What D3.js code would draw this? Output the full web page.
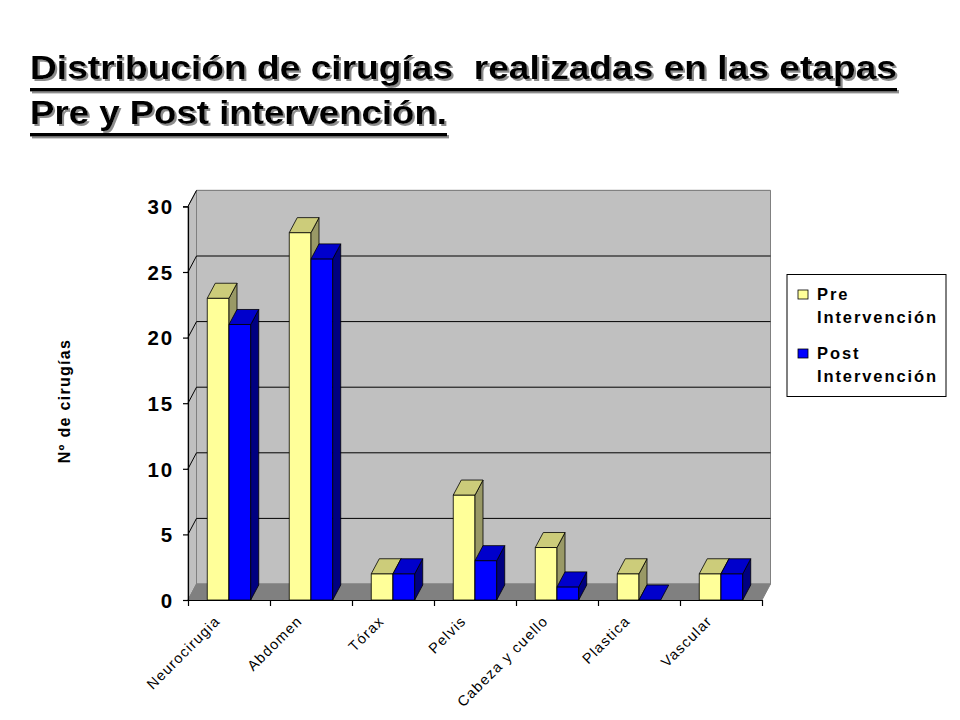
<!DOCTYPE html>
<html>
<head>
<meta charset="utf-8">
<script src="https://cdn.jsdelivr.net/npm/d3@7"></script>
<style>
  html, body { margin: 0; padding: 0; background: #ffffff; }
  svg { display: block; }
</style>
</head>
<body>
<svg id="chart" width="960" height="720"></svg>
<script>
// ---- data ----
const categories = ["Neurocirugia", "Abdomen", "Tórax", "Pelvis", "Cabeza y cuello", "Plastica", "Vascular"];
const preValues  = [23, 28, 2, 8, 4, 2, 2];
const postValues = [21, 26, 2, 3, 1, 0, 2];
const seriesNames = ["Pre\nIntervención", "Post\nIntervención"];
const yTicks = [0, 5, 10, 15, 20, 25, 30];
const titleLines = ["Distribución de cirugías  realizadas en las etapas", "Pre y Post intervención."];
const yTitle = "Nº de cirugías";

// ---- layout ----
const svg = d3.select("#chart");
const X0 = 188, X1 = 762, Y0 = 600, Y1 = 206.4;
const DX = 8.5, DY = -16;     // wall depth
const BDX = 8, BDY = -15;     // bar depth

const x = d3.scaleBand().domain(categories).range([X0, X1]).paddingInner(0).paddingOuter(0);
const xEdge = d3.scaleLinear().domain([0, categories.length]).range([X0, X1]);
const y = d3.scaleLinear().domain([0, 30]).range([Y0, Y1]);
const series = [
  { name: seriesNames[0], values: preValues,  front: "#FFFF99", top: "#CCCC7A", side: "#999966" },
  { name: seriesNames[1], values: postValues, front: "#0000FF", top: "#0000CC", side: "#000080" }
];
const barW = x.bandwidth() * 0.265;
const groupOff = x.bandwidth() * 0.235;

const pts = p => p.map(d => d.join(",")).join(" ");

// shadow filter
const defs = svg.append("defs");
const f = defs.append("filter").attr("id", "shadow").attr("x", "-5%").attr("y", "-20%").attr("width", "110%").attr("height", "150%");
f.append("feDropShadow").attr("dx", 2).attr("dy", 2).attr("stdDeviation", 0.4)
  .attr("flood-color", "#8c8c8c").attr("flood-opacity", 1);

// ---- title ----
const tg = svg.append("g").attr("filter", "url(#shadow)");
const titleY = [79, 124];
const titleW = [867, 417];
titleLines.forEach((t, i) => {
  tg.append("text")
    .attr("x", 30).attr("y", titleY[i])
    .attr("font-family", "Liberation Sans, Arial, sans-serif")
    .attr("font-weight", "bold").attr("font-size", 33)
    .attr("textLength", titleW[i]).attr("lengthAdjust", "spacingAndGlyphs")
    .style("white-space", "pre")
    .attr("fill", "#000").text(t);
  tg.append("rect")
    .attr("x", 30).attr("y", titleY[i] + 9)
    .attr("width", titleW[i]).attr("height", 3.4)
    .attr("fill", "#000");
});

// ---- walls ----
const pg = svg.append("g");
pg.append("polygon")
  .attr("points", pts([[X0 + DX, Y1 + DY], [X1 + DX, Y1 + DY], [X1 + DX, Y0 + DY], [X0 + DX, Y0 + DY]]))
  .attr("fill", "#C0C0C0").attr("stroke", "#808080").attr("stroke-width", 1);
pg.append("polygon")
  .attr("points", pts([[X0, Y0], [X0, Y1], [X0 + DX, Y1 + DY], [X0 + DX, Y0 + DY]]))
  .attr("fill", "#C0C0C0").attr("stroke", "#808080").attr("stroke-width", 1);
pg.append("polygon")
  .attr("points", pts([[X0, Y0], [X1, Y0], [X1 + DX, Y0 + DY], [X0 + DX, Y0 + DY]]))
  .attr("fill", "#808080").attr("stroke", "#808080").attr("stroke-width", 1);

// gridlines
yTicks.filter(v => v > 0).forEach(v => {
  const yy = y(v);
  pg.append("line")
    .attr("x1", X0 + DX).attr("x2", X1 + DX).attr("y1", yy + DY).attr("y2", yy + DY)
    .attr("stroke", v === 30 ? "#808080" : "#000").attr("stroke-width", 1);
  pg.append("line")
    .attr("x1", X0).attr("y1", yy).attr("x2", X0 + DX).attr("y2", yy + DY)
    .attr("stroke", "#000").attr("stroke-width", 1);
});

// ---- bars ----
const bg = svg.append("g").attr("stroke", "#000").attr("stroke-width", 0.8).attr("stroke-linejoin", "round");
categories.forEach((c, i) => {
  series.forEach((s, si) => {
    const v = s.values[i];
    const xl = x(c) + groupOff + si * barW;
    const xr = xl + barW;
    const yt = y(v), yb = y(0);
    if (v > 0) {
      bg.append("polygon").attr("points", pts([[xl, yb], [xl, yt], [xr, yt], [xr, yb]])).attr("fill", s.front);
      bg.append("polygon").attr("points", pts([[xr, yb], [xr, yt], [xr + BDX, yt + BDY], [xr + BDX, yb + BDY]])).attr("fill", s.side);
    }
    bg.append("polygon").attr("points", pts([[xl, yt], [xl + BDX, yt + BDY], [xr + BDX, yt + BDY], [xr, yt]])).attr("fill", s.top);
  });
});

// ---- axes ----
const yAxis = svg.append("g").attr("transform", `translate(${X0},0)`)
  .call(d3.axisLeft(y).tickValues(yTicks).tickSize(5).tickPadding(9).tickFormat(d3.format("d")));
yAxis.select(".domain").attr("stroke", "#000").attr("stroke-width", 1.2);
yAxis.selectAll(".tick line").attr("stroke", "#000").attr("stroke-width", 1.2);
yAxis.selectAll(".tick text")
  .attr("font-family", "Liberation Sans, Arial, sans-serif")
  .attr("font-weight", "bold").attr("font-size", 20.5).attr("letter-spacing", 1.8)
  .attr("fill", "#000").attr("dy", "0.36em");

const xAxis = svg.append("g").attr("transform", `translate(0,${Y0})`)
  .call(d3.axisBottom(xEdge).tickValues(d3.range(categories.length + 1)).tickSize(6).tickFormat(""));
xAxis.select(".domain").attr("stroke", "#000").attr("stroke-width", 1.2).attr("d", `M${X0},0.5H${X1}`);
xAxis.selectAll(".tick line").attr("stroke", "#000").attr("stroke-width", 1.2);

// x labels
svg.append("g").selectAll("text").data(categories).join("text")
  .attr("transform", d => `translate(${x(d) + x.bandwidth() / 2 - 8},622) rotate(-45)`)
  .attr("text-anchor", "end")
  .attr("font-family", "Liberation Sans, Arial, sans-serif")
  .attr("font-size", 14.5).attr("letter-spacing", 1.2)
  .attr("fill", "#000").text(d => d);

// y title
svg.append("text")
  .attr("transform", "translate(70,401) rotate(-90)")
  .attr("text-anchor", "middle")
  .attr("font-family", "Liberation Sans, Arial, sans-serif")
  .attr("font-weight", "bold").attr("font-size", 16).attr("letter-spacing", 1.3)
  .attr("fill", "#000").text(yTitle);

// ---- legend ----
const lg = svg.append("g");
lg.append("rect").attr("x", 787).attr("y", 274.5).attr("width", 159).attr("height", 122)
  .attr("fill", "#fff").attr("stroke", "#000").attr("stroke-width", 1);
series.forEach((s, i) => {
  const by = 290 + i * 59;
  lg.append("rect").attr("x", 798).attr("y", by).attr("width", 10).attr("height", 9)
    .attr("fill", s.front).attr("stroke", "#000").attr("stroke-width", 0.8);
  const lines = s.name.split("\n");
  const t = lg.append("text")
    .attr("font-family", "Liberation Sans, Arial, sans-serif")
    .attr("font-weight", "bold").attr("font-size", 16.5).attr("letter-spacing", 1.9)
    .attr("fill", "#000");
  lines.forEach((ln, j) => {
    t.append("tspan").attr("x", 817).attr("y", by + 10 + j * 22.7).text(ln);
  });
});
</script>
</body>
</html>
